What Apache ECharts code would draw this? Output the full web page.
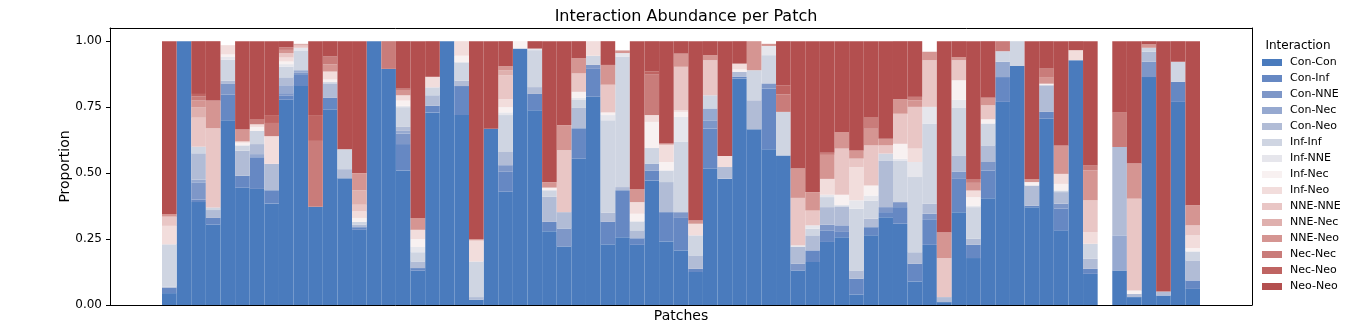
<!DOCTYPE html>
<html>
<head>
<meta charset="utf-8">
<script src="https://cdn.jsdelivr.net/npm/echarts@6/dist/echarts.min.js"></script>
<style>
  html, body { margin: 0; padding: 0; background: #fff; }
  #chart { width: 1368px; height: 325px; }
</style>
</head>
<body>
<div id="chart"></div>
<script>
// Patch identifiers (one stacked column per patch; patch 65 has no interactions)
const patches = Array.from({ length: 71 }, (_, i) => 'Patch ' + (i + 1));

const interactions = [
  'Con-Con', 'Con-Inf', 'Con-NNE', 'Con-Nec', 'Con-Neo',
  'Inf-Inf', 'Inf-NNE', 'Inf-Nec', 'Inf-Neo',
  'NNE-NNE', 'NNE-Nec', 'NNE-Neo',
  'Nec-Nec', 'Nec-Neo', 'Neo-Neo'
];

const yTicks = [0, 0.25, 0.5, 0.75, 1.0];

// Proportion of each interaction type per patch
const conCon = [
  .045, 1, .39, .305, .70, .445, .44, .385, .778, .83,
  .372, .74, .48, .285, 1, .895, .51, .13, .73, 1,
  .72, .02, .668, .43, .972, .738, .28, .222, .555, .79,
  .23, .257, .228, .472, .241, .207, .125, .517, .479, .858,
  .666, .59, .567, .131, .163, .239, .257, .04, .264, .333,
  .308, .089, .228, .011, .352, .178, .405, .77, .906, .371,
  .706, .283, .928, .118, 0, .131, .03, .864, .036, .77,
  .061
];
const conInf = [
  .02, 0, .01, .025, .097, .045, .12, .05, .015, .045,
  0, .045, 0, .01, 0, 0, .10, .01, .025, 0,
  .11, 0, 0, .075, 0, .062, .035, 0, .115, .105,
  .085, .178, .025, .038, .111, .123, .012, .152, 0, .008,
  0, .23, 0, 0, .044, .044, .02, .06, .031, .019,
  .063, .067, .097, 0, .126, .05, .105, .094, 0, .005,
  .026, .082, 0, .019, 0, 0, 0, 0, 0, .076,
  .032
];
const conNNE = [
  0, 0, .065, 0, .043, 0, 0, 0, .01, .005,
  0, 0, 0, 0, 0, 0, .04, 0, 0, 0,
  0, 0, 0, .025, 0, 0, 0, .068, 0, .015,
  0, 0, 0, 0, 0, .022, 0, .031, 0, 0,
  0, .02, 0, .025, 0, .021, .025, 0, 0, .019,
  .019, 0, .021, 0, .028, 0, .032, 0, 0, 0,
  0, .019, 0, 0, 0, 0, 0, .058, 0, 0,
  0
];
const conNec = [
  0, 0, .01, 0, 0, 0, .012, 0, .03, .01,
  0, 0, 0, 0, 0, 0, .01, 0, 0, 0,
  0, 0, 0, 0, 0, 0, 0, 0, 0, 0,
  0, 0, 0, .026, 0, 0, 0, .045, 0, 0,
  0, 0, 0, 0, 0, 0, 0, 0, 0, 0,
  0, 0, 0, 0, 0, 0, 0, .058, 0, 0,
  0, 0, 0, 0, 0, .133, 0, 0, 0, 0,
  0
];
const conNeo = [
  .005, 0, .10, .03, .01, .095, .038, .10, .03, 0,
  0, .055, .035, .01, 0, 0, .015, .025, .04, 0,
  .02, .01, 0, .05, 0, .026, .095, .062, .077, 0,
  .035, .012, .03, 0, .114, 0, .051, 0, .044, .018,
  .11, 0, 0, .064, .057, .067, .07, .031, .032, .177,
  0, .044, .038, .019, .061, .023, .063, 0, 0, .077,
  .101, .044, 0, .038, 0, .335, .012, .038, .015, 0,
  .076
];
const infInf = [
  .16, 0, .025, .01, .08, .02, .05, 0, .04, .075,
  0, .005, .075, .01, 0, 0, .075, .035, .03, 0,
  .07, .135, 0, .14, 0, .14, .025, 0, .03, .035,
  .35, .495, .034, .059, .044, .268, .076, .05, 0, 0,
  .114, .107, .165, 0, .025, .038, .006, .234, .069, .026,
  .158, .285, .304, 0, .18, .12, .083, .04, .094, 0,
  0, .006, 0, .057, 0, 0, 0, .015, 0, .076,
  .034
];
const infNNE = [
  0, 0, 0, 0, .01, 0, 0, 0, .01, .01,
  0, 0, 0, 0, 0, 0, .005, .02, 0, 0,
  0, 0, 0, .01, 0, .006, 0, 0, .008, 0,
  .02, .013, 0, 0, 0, .093, 0, 0, 0, 0,
  0, .035, 0, .006, .013, .009, 0, .032, .019, 0,
  .006, .057, .063, 0, .031, .006, 0, 0, 0, 0,
  0, 0, 0, 0, 0, 0, 0, 0, 0, 0,
  0
];
const infNec = [
  0, 0, 0, 0, .01, .01, .015, 0, .01, 0,
  0, .01, 0, .015, 0, 0, .02, .03, 0, 0,
  .025, 0, 0, .02, .028, 0, .01, 0, .023, 0,
  .01, 0, .029, .099, .032, .019, 0, 0, 0, .009,
  0, 0, 0, 0, 0, 0, .04, 0, .038, 0,
  .057, 0, 0, 0, .074, .032, .016, 0, 0, .013,
  .006, .025, 0, 0, 0, 0, .013, 0, 0, 0,
  .013
];
const infNeo = [
  .07, 0, 0, 0, .035, .005, .01, .105, .015, 0,
  0, .03, 0, .025, 0, 0, .02, .035, .04, 0,
  .055, .08, 0, .03, 0, 0, 0, 0, 0, .055,
  0, 0, .044, .026, .066, .006, .044, 0, .042, .022,
  0, 0, 0, 0, 0, .06, 0, .126, 0, 0,
  0, .051, 0, 0, 0, .025, 0, 0, 0, 0,
  0, .038, .038, .044, 0, 0, 0, 0, 0, 0,
  .048
];
const nneNNE = [
  .035, 0, .11, .30, 0, 0, 0, 0, .017, .008,
  0, 0, 0, .025, 0, 0, 0, 0, 0, 0,
  0, 0, 0, .09, 0, 0, 0, .235, .07, 0,
  .105, 0, 0, 0, 0, .165, 0, .133, 0, 0,
  0, 0, 0, .18, .056, 0, .175, .032, .152, .031,
  .114, .158, .177, .148, .076, 0, .053, 0, 0, 0,
  0, 0, 0, .121, 0, 0, .348, 0, 0, 0,
  .038
];
const nneNec = [
  0, 0, .04, 0, 0, 0, 0, 0, 0, .007,
  0, 0, 0, .055, 0, 0, 0, 0, 0, 0,
  0, 0, 0, .02, 0, 0, 0, 0, 0, 0,
  0, 0, 0, 0, 0, 0, 0, 0, 0, 0,
  0, 0, 0, 0, 0, 0, 0, 0, 0, 0,
  0, 0, 0, 0, 0, 0, 0, 0, 0, 0,
  0, 0, 0, 0, 0, 0, 0, 0, 0, 0,
  0
];
const nneNeo = [
  .01, 0, .025, .105, 0, .045, 0, 0, .012, 0,
  0, .027, 0, .065, 0, 0, .02, .045, 0, 0,
  0, .005, 0, .015, 0, 0, .02, .095, .058, 0,
  .075, .01, .05, 0, .004, .05, .012, .019, 0, 0,
  .11, .008, 0, .111, .07, .091, .063, .031, .063, .025,
  .055, .025, .032, .098, .012, .029, .029, 0, 0, .012,
  .025, .108, 0, .113, 0, 0, .133, .013, 0, 0,
  .076
];
const necNec = [
  0, 0, .015, 0, 0, 0, .02, .05, .01, 0,
  .25, .03, 0, 0, 0, .105, .005, 0, 0, 0,
  0, 0, 0, 0, 0, 0, 0, 0, 0, 0,
  0, 0, 0, .153, 0, 0, 0, 0, 0, 0,
  0, 0, .066, 0, 0, .008, 0, 0, .045, 0,
  0, .013, 0, 0, 0, .015, 0, .038, 0, 0,
  .032, 0, 0, .019, 0, .132, 0, 0, 0, 0,
  0
];
const necNeo = [
  0, 0, .01, 0, 0, 0, 0, .03, 0, 0,
  .098, 0, 0, 0, 0, 0, 0, 0, 0, 0,
  0, 0, 0, 0, 0, 0, 0, 0, 0, 0,
  0, 0, 0, .013, 0, 0, 0, 0, 0, 0,
  0, 0, .035, 0, 0, 0, 0, 0, 0, 0,
  0, 0, 0, 0, 0, 0, 0, 0, 0, 0,
  0, 0, 0, 0, 0, 0, 0, 0, 0, 0,
  0
];
const neoNeo = [
  .655, 0, .2, .225, 0, .335, .295, .28, .023, 0,
  .28, .058, .41, .5, 0, 0, .18, .67, .135, 0,
  0, .75, .332, .095, 0, .028, .535, .318, .064, 0,
  .09, 0, .56, .114, .388, .047, .68, .053, .435, .085,
  0, 0, .167, .483, .572, .423, .344, .414, .287, .37,
  .22, .211, 0, .724, .06, .522, .214, 0, 0, .522,
  .104, .395, .034, .471, 0, .269, .464, .012, .949, .078,
  .622
];

const seriesValues = [
  conCon, conInf, conNNE, conNec, conNeo,
  infInf, infNNE, infNec, infNeo,
  nneNNE, nneNec, nneNeo,
  necNec, necNeo, neoNeo
];

// Diverging blue-to-red palette
const palette = [
  '#4a7bbd', '#6688c3', '#7e97c8', '#96a9d0', '#b1bcd6',
  '#cfd5e2', '#e6e6ec', '#f8f1f1', '#f2dddc',
  '#e9c6c5', '#dfb0ae', '#d59592',
  '#c97c7a', '#bf6462', '#b34f4f'
];

const FONT = 'DejaVu Sans';
const chart = echarts.init(document.getElementById('chart'), null, { renderer: 'canvas' });

const hiddenAxisBits = {
  axisTick: { show: false },
  axisLabel: { show: false },
  splitLine: { show: false }
};
const spine = { show: true, onZero: false, lineStyle: { color: '#000', width: 1 } };

chart.setOption({
  animation: false,
  backgroundColor: '#fff',
  title: {
    text: 'Interaction Abundance per Patch',
    left: 681,
    top: 4,
    textAlign: 'center',
    textStyle: { fontFamily: FONT, fontSize: 16, fontWeight: 'normal', color: '#000' }
  },
  graphic: [{
    type: 'text',
    x: 1298,
    y: 46,
    style: {
      text: 'Interaction',
      fontFamily: FONT,
      fontSize: 12,
      fill: '#000',
      align: 'center',
      verticalAlign: 'middle'
    }
  }],
  legend: {
    orient: 'vertical',
    left: 1262,
    top: 57,
    padding: 0,
    icon: 'rect',
    itemWidth: 20,
    itemHeight: 7,
    itemGap: 5,
    data: interactions,
    textStyle: { fontFamily: FONT, fontSize: 11, lineHeight: 11, color: '#000', padding: [0, 0, 0, 3] }
  },
  grid: [
    { left: 162, width: 1038, top: 28, bottom: 20, outerBoundsMode: 'none', containLabel: false },
    { left: 110, width: 1142, top: 28, bottom: 20, outerBoundsMode: 'none', containLabel: false }
  ],
  xAxis: [
    { type: 'category', gridIndex: 0, data: patches, show: false, boundaryGap: true },
    {
      type: 'value', gridIndex: 1, min: 0, max: 1, position: 'bottom',
      axisLine: spine, ...hiddenAxisBits,
      name: 'Patches', nameLocation: 'middle', nameGap: 4, nameMoveOverlap: false,
      nameTextStyle: { fontFamily: FONT, fontSize: 14, color: '#000', verticalAlign: 'top' }
    },
    { type: 'value', gridIndex: 1, min: 0, max: 1, position: 'top', axisLine: spine, ...hiddenAxisBits }
  ],
  yAxis: [
    { type: 'value', gridIndex: 0, min: 0, max: 1.05, show: false },
    {
      type: 'value', gridIndex: 1, min: 0, max: 1.05, position: 'left',
      axisLine: spine,
      splitLine: { show: false },
      axisTick: { show: true, length: 4, lineStyle: { color: '#000' }, customValues: yTicks },
      axisLabel: {
        customValues: yTicks,
        margin: 8,
        fontFamily: FONT, fontSize: 12, color: '#000',
        formatter: v => v.toFixed(2)
      },
      name: 'Proportion', nameLocation: 'middle', nameGap: 38, nameMoveOverlap: false,
      nameTextStyle: { fontFamily: FONT, fontSize: 14, color: '#000' }
    },
    { type: 'value', gridIndex: 1, min: 0, max: 1.05, position: 'right', axisLine: spine, ...hiddenAxisBits }
  ],
  series: interactions.map((name, k) => ({
    name,
    type: 'bar',
    stack: 'total',
    xAxisIndex: 0,
    yAxisIndex: 0,
    barWidth: '100%',
    barCategoryGap: '0%',
    itemStyle: { color: palette[k] },
    emphasis: { disabled: true },
    data: seriesValues[k]
  }))
});
</script>
</body>
</html>
